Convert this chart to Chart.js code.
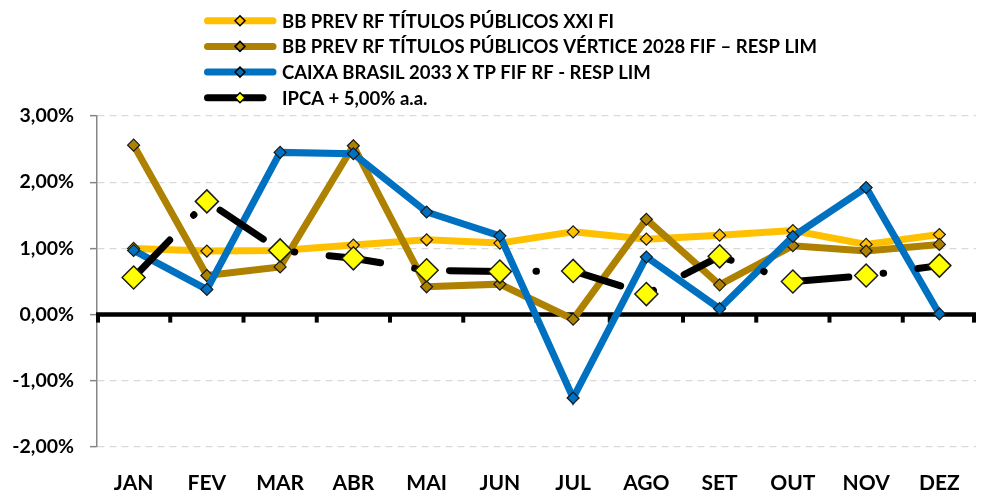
<!DOCTYPE html>
<html>
<head>
<meta charset="utf-8">
<script src="https://cdn.jsdelivr.net/npm/chart.js@4.4.1/dist/chart.umd.min.js"></script>
<style>
  html, body { margin: 0; padding: 0; background: #fff; }
  #wrap { width: 989px; height: 492px; }
</style>
</head>
<body>
<div id="wrap"><canvas id="chart"></canvas></div>
<script>
// chart data (% per month)
const months = ["JAN", "FEV", "MAR", "ABR", "MAI", "JUN", "JUL", "AGO", "SET", "OUT", "NOV", "DEZ"];
const bbXxi = [1.00, 0.96, 0.97, 1.05, 1.13, 1.08, 1.25, 1.14, 1.20, 1.27, 1.06, 1.21];
const bbVertice = [2.56, 0.59, 0.72, 2.55, 0.42, 0.46, -0.07, 1.44, 0.45, 1.04, 0.96, 1.06];
const caixa2033 = [0.97, 0.38, 2.45, 2.43, 1.55, 1.19, -1.26, 0.87, 0.09, 1.18, 1.92, 0.01];
const ipca5 = [0.56, 1.71, 0.97, 0.85, 0.67, 0.65, 0.66, 0.31, 0.88, 0.50, 0.59, 0.74];
const yTicks = [-2, -1, 0, 1, 2, 3];

const FONT = "Lato, 'Open Sans', sans-serif";

const labels = [
  "BB PREV RF TÍTULOS PÚBLICOS XXI FI",
  "BB PREV RF TÍTULOS PÚBLICOS VÉRTICE 2028 FIF – RESP LIM",
  "CAIXA BRASIL 2033 X TP FIF RF - RESP LIM",
  "IPCA + 5,00% a.a."
];

function fmtPct(v) {
  return v.toFixed(2).replace(".", ",") + "%";
}

// thick zero line with category ticks under it
const zeroLine = {
  id: "zeroLine",
  beforeDatasetsDraw(chart) {
    const { ctx, chartArea, scales } = chart;
    const y0 = scales.y.getPixelForValue(0);
    const step = (chartArea.right - chartArea.left) / months.length;
    ctx.save();
    ctx.strokeStyle = "#000";
    ctx.lineWidth = 4.5;
    ctx.beginPath();
    ctx.moveTo(chartArea.left - 1, y0);
    ctx.lineTo(chartArea.right, y0);
    ctx.stroke();
    ctx.lineWidth = 4;
    for (let i = 0; i <= months.length; i++) {
      const x = Math.min(chartArea.left + i * step, chartArea.right - 2);
      ctx.beginPath();
      ctx.moveTo(x + (i === 0 ? 1 : 0), y0);
      ctx.lineTo(x + (i === 0 ? 1 : 0), y0 + 8);
      ctx.stroke();
    }
    ctx.restore();
  }
};

// legend: line with marker in the middle, then the text
const lineLegend = {
  id: "lineLegend",
  afterDraw(chart) {
    const { ctx } = chart;
    ctx.save();
    chart.data.datasets.forEach((ds, row) => {
      const y = 20.7 + row * 25.7;
      const x1 = 207.5, x2 = ds.legendShort ? 263 : 273;
      ctx.strokeStyle = ds.borderColor;
      ctx.lineWidth = 7;
      ctx.lineCap = "round";
      ctx.setLineDash([]);
      ctx.beginPath();
      ctx.moveTo(x1, y);
      ctx.lineTo(x2, y);
      ctx.stroke();
      // small diamond
      const cx = 240, r = 5;
      ctx.beginPath();
      ctx.moveTo(cx - r, y);
      ctx.lineTo(cx, y - r);
      ctx.lineTo(cx + r, y);
      ctx.lineTo(cx, y + r);
      ctx.closePath();
      ctx.fillStyle = ds.pointBackgroundColor;
      ctx.fill();
      ctx.lineWidth = 1.5;
      ctx.strokeStyle = "#000";
      ctx.stroke();
      ctx.fillStyle = "#000";
      ctx.font = "bold 18.5px " + FONT;
      ctx.textBaseline = "middle";
      ctx.fillText(ds.label, 282, y + 1);
    });
    ctx.restore();
  }
};

new Chart(document.getElementById("chart"), {
  type: "line",
  data: {
    labels: months,
    datasets: [
      {
        label: labels[0],
        data: bbXxi,
        borderColor: "#FFC000",
        backgroundColor: "#FFC000",
        pointBackgroundColor: "#FFC000",
        borderWidth: 7,
        pointRadius: 6,
        pointBorderWidth: 1.2,
        pointBorderColor: "#1a1a1a",
        pointStyle: "rectRot",
        order: 3
      },
      {
        label: labels[1],
        data: bbVertice,
        borderColor: "#AE8200",
        backgroundColor: "#AE8200",
        pointBackgroundColor: "#AE8200",
        borderWidth: 7,
        pointRadius: 6,
        pointBorderWidth: 1.2,
        pointBorderColor: "#1a1a1a",
        pointStyle: "rectRot",
        order: 2
      },
      {
        label: labels[2],
        data: caixa2033,
        borderColor: "#0070C0",
        backgroundColor: "#0070C0",
        pointBackgroundColor: "#0070C0",
        borderWidth: 7,
        pointRadius: 6,
        pointBorderWidth: 1.2,
        pointBorderColor: "#1a1a1a",
        pointStyle: "rectRot",
        order: 1
      },
      {
        label: labels[3],
        data: ipca5,
        borderColor: "#000000",
        backgroundColor: "#FFFF00",
        pointBackgroundColor: "#FFFF00",
        borderWidth: 7,
        borderDash: [52, 34.5, 0.5, 34.5],
        borderCapStyle: "round",
        pointRadius: 11.5,
        pointBorderWidth: 1.5,
        pointBorderColor: "#1a1a1a",
        pointStyle: "rectRot",
        legendShort: true,
        order: 0
      }
    ]
  },
  options: {
    responsive: true,
    maintainAspectRatio: false,
    animation: false,
    layout: { padding: { top: 116, right: 1, left: 0, bottom: 0 } },
    plugins: {
      legend: { display: false },
      tooltip: { enabled: false }
    },
    elements: { line: { tension: 0 } },
    scales: {
      x: {
        offset: true,
        grid: { display: false, drawTicks: false },
        border: { display: false },
        ticks: {
          color: "#000",
          font: { family: FONT, size: 21, weight: "bold" },
          padding: 24
        },
        afterFit(scale) { scale.height = 45; }
      },
      y: {
        min: -2,
        max: 3,
        afterBuildTicks(scale) {
          scale.ticks = yTicks.map((v) => ({ value: v }));
        },
        grid: {
          color: (c) => (c.tick && c.tick.value === 0 ? "rgba(0,0,0,0)" : "#D9D9D9"),
          lineWidth: 1.3,
          tickColor: "#868686",
          tickLength: 7,
          tickWidth: 1.5
        },
        border: { display: true, color: "#868686", width: 1.5, dash: [7, 5] },
        ticks: {
          color: "#000",
          font: { family: FONT, size: 19.5, weight: "bold" },
          padding: 16,
          callback: (v) => fmtPct(v)
        },
        afterFit(scale) { scale.width = 97; }
      }
    }
  },
  plugins: [zeroLine, lineLegend]
});
</script>
</body>
</html>
